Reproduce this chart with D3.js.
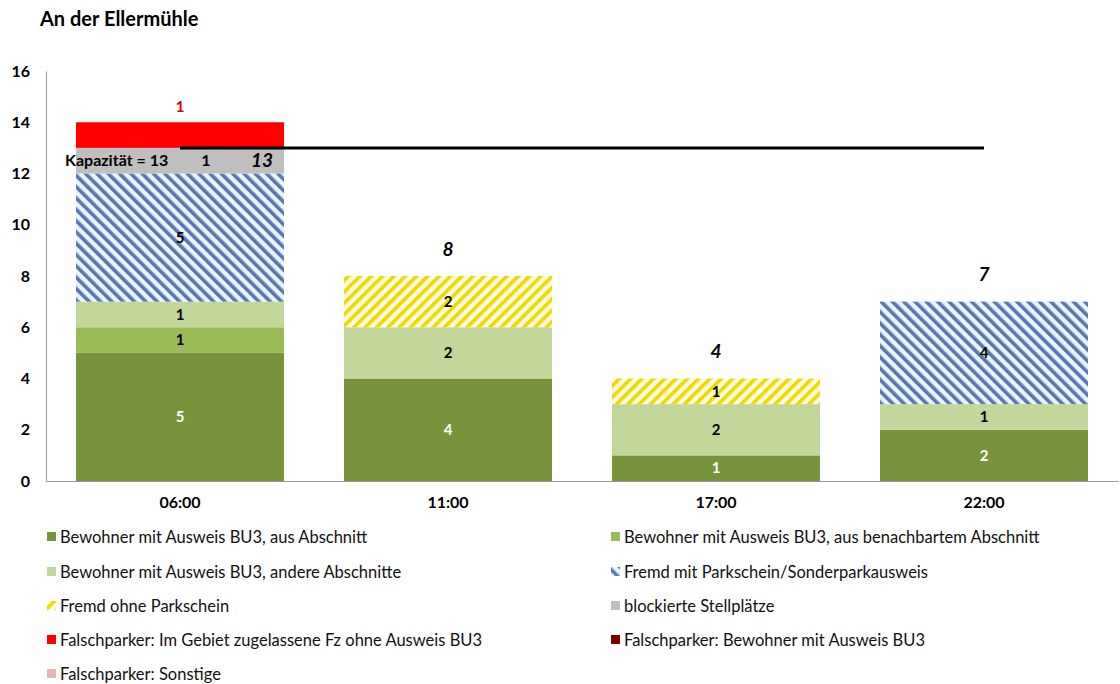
<!DOCTYPE html>
<html><head><meta charset="utf-8">
<script src="https://cdn.jsdelivr.net/npm/d3@7"></script>
<style>body{margin:0;background:#fff}svg{font-family:Lato,"Open Sans",sans-serif}</style>
</head><body><svg id="c" width="1120" height="684"></svg>
<script>
const title = "An der Ellermühle";
const categories = ["06:00","11:00","17:00","22:00"];
const seriesNames = [
  "Bewohner mit Ausweis BU3, aus Abschnitt",
  "Bewohner mit Ausweis BU3, aus benachbartem Abschnitt",
  "Bewohner mit Ausweis BU3, andere Abschnitte",
  "Fremd mit Parkschein/Sonderparkausweis",
  "Fremd ohne Parkschein",
  "blockierte Stellplätze",
  "Falschparker: Im Gebiet zugelassene Fz ohne Ausweis BU3",
  "Falschparker: Bewohner mit Ausweis BU3",
  "Falschparker: Sonstige"
];
const bewohnerAbschnitt = [5,4,1,2];
const bewohnerBenachbart = [1,0,0,0];
const bewohnerAndere = [1,2,2,1];
const fremdMitParkschein = [5,0,0,4];
const fremdOhneParkschein = [0,2,1,0];
const blockiert = [1,0,0,0];
const falschGebiet = [1,0,0,0];
const falschBewohner = [0,0,0,0];
const falschSonstige = [0,0,0,0];
const totals = [13,8,4,7];
const capacity = 13;
const yTicks = [0,2,4,6,8,10,12,14,16];

const seriesValues = [bewohnerAbschnitt,bewohnerBenachbart,bewohnerAndere,fremdMitParkschein,
  fremdOhneParkschein,blockiert,falschGebiet,falschBewohner,falschSonstige];
const fills = ["#77933C","#9BBB59","#C3D69B","url(#hBlue)","url(#hYellow)","#BFBFBF","#FF0000","#800000","#E6B9B8"];
const labelColors = ["#fff","#000","#000","#000","#000","#000","#E00000","#000","#000"];

const svg = d3.select("#c");
const defs = svg.append("defs");
function hatch(id, bg, fg, dir){
  const p = defs.append("pattern").attr("id",id).attr("patternUnits","userSpaceOnUse")
    .attr("width",8).attr("height",8).attr("patternTransform","rotate("+(dir*45)+")");
  p.append("rect").attr("width",8).attr("height",8).attr("fill",bg);
  p.append("rect").attr("width",3.6).attr("height",8).attr("fill",fg);
}
hatch("hBlue","#EAF3FB","#5677B4",-1);
hatch("hYellow","#FFFDE0","#F0D800",1);

const margin = {left:46, top:71, bottom:481, right:1118};
const x = d3.scaleBand().domain(categories).range([margin.left, margin.right]).paddingInner(60/268).paddingOuter(30/268);
const y = d3.scaleLinear().domain([0,16]).range([margin.bottom, margin.top]);

svg.append("text").attr("x",40).attr("y",26).attr("font-size",20).attr("font-weight","bold").text(title);

// axes
const yAxis = svg.append("g").attr("transform",`translate(${margin.left},0)`)
  .call(d3.axisLeft(y).tickValues(yTicks).tickSize(0).tickPadding(16));
yAxis.select(".domain").attr("stroke","#999");
yAxis.selectAll("text").attr("font-size",16).attr("font-weight","bold").attr("fill","#000").attr("font-family","Lato");

// stacked data
const table = categories.map((c,i)=>{const o={cat:c}; seriesValues.forEach((s,k)=>o["s"+k]=s[i]); return o;});
const stack = d3.stack().keys(seriesValues.map((s,k)=>"s"+k))(table);

stack.forEach((layer,k)=>{
  svg.append("g").selectAll("rect").data(layer.filter(d=>d[1]-d[0]>0)).join("rect")
    .attr("x",d=>x(d.data.cat)).attr("width",x.bandwidth())
    .attr("y",d=>y(d[1])).attr("height",d=>y(d[0])-y(d[1]))
    .attr("fill",fills[k]);
});

const xAxis = svg.append("g").attr("transform",`translate(0,${margin.bottom})`)
  .call(d3.axisBottom(x).tickSize(0).tickPadding(16));
xAxis.select(".domain").attr("stroke","#999");
xAxis.selectAll("text").attr("font-size",16).attr("font-weight","bold").attr("fill","#000").attr("font-family","Lato");

// segment labels
stack.forEach((layer,k)=>{
  svg.append("g").selectAll("text").data(layer.filter(d=>d[1]-d[0]>0)).join("text")
    .attr("x",d=>x(d.data.cat)+x.bandwidth()/2 + (k===5 ? 26 : 0))
    .attr("y",d=> k===6 ? y(d[1]+0.6) : y((d[0]+d[1])/2))
    .attr("dy","0.35em").attr("text-anchor","middle")
    .attr("font-size",k===5?16:15).attr("font-weight","bold").attr("fill",labelColors[k])
    .text(d=>d[1]-d[0]);
});
// capacity line
svg.append("line").attr("x1",x(categories[0])+x.bandwidth()/2).attr("x2",x(categories[3])+x.bandwidth()/2)
  .attr("y1",y(capacity)).attr("y2",y(capacity)).attr("stroke","#000").attr("stroke-width",3);

// totals
svg.append("g").selectAll("text").data(categories).join("text")
  .attr("x",(c,i)=> i===0 ? x(c)+x.bandwidth()-22 : x(c)+x.bandwidth()/2)
  .attr("y",(c,i)=> i===0 ? y(blockiert[0]/2+totals[0]-1) : y(totals[i]+1.05))
  .attr("dy","0.35em").attr("text-anchor","middle")
  .attr("font-size",19).attr("font-weight","bold").attr("font-style","italic").text((c,i)=>totals[i]);

svg.append("text").attr("x",65).attr("y",y(capacity-0.5)).attr("dy","0.35em")
  .attr("font-size",16).attr("font-weight","bold").text("Kapazität = "+capacity);

// legend
const legRows = [537,572,606,640,674];
const legCols = [47,611];
const leg = svg.append("g");
seriesNames.forEach((n,k)=>{
  const cx = legCols[k%2], cy = legRows[Math.floor(k/2)];
  const g = leg.append("g").attr("transform",`translate(${cx},${cy})`);
  g.append("rect").attr("x",0).attr("y",-5).attr("width",9).attr("height",9).attr("fill",fills[k]);
  g.append("text").attr("x",13).attr("y",0).attr("dy","0.35em").attr("font-size",16.5).attr("fill","#111").text(n);
});
</script></body></html>
